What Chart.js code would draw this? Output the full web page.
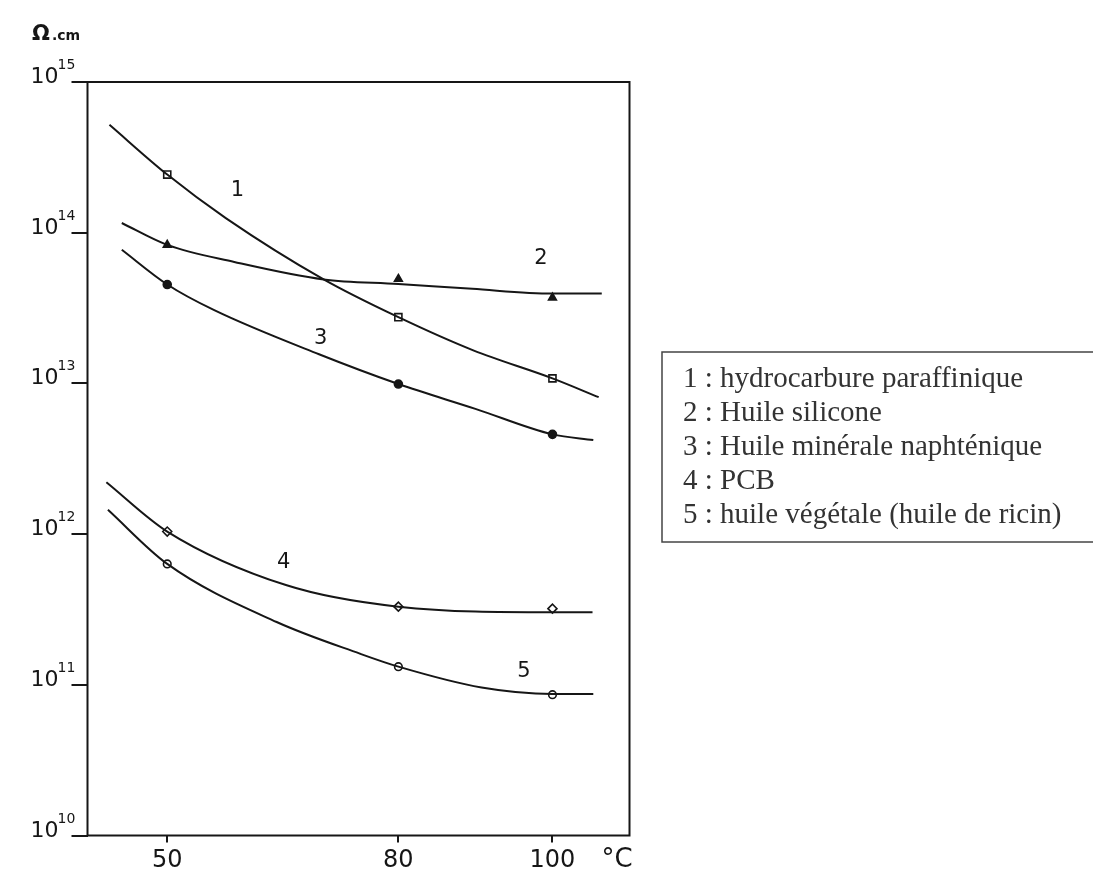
<!DOCTYPE html>
<html>
<head>
<meta charset="utf-8">
<script src="https://cdn.jsdelivr.net/npm/chart.js@4"></script>
<style>
  html, body { margin: 0; padding: 0; background: #fff; overflow: hidden; }
</style>
</head>
<body>
<canvas id="resChart" width="1093" height="877"></canvas>
<script>
// Resistivity (ohm.cm) vs temperature (°C)
const xTicks = [50, 80, 100];
const yTicks = [1e10, 1e11, 1e12, 1e13, 1e14, 1e15];

// measured temperatures (markers)
const measT = [50, 80, 100];

// 1 : hydrocarbure paraffinique
const c1X = [42.5, 50, 57.6, 70.3, 80, 89.8, 100, 106];
const c1Y = [5.2e14, 2.43e14, 1.25e14, 4.9e13, 2.75e13, 1.65e13, 1.08e13, 8.1e12];
const c1Pts = [2.43e14, 2.75e13, 1.08e13];

// 2 : Huile silicone
const c2X = [44.1, 50, 58.7, 70.3, 80, 89.6, 100, 106.4];
const c2Y = [1.16e14, 8.3e13, 6.4e13, 4.9e13, 4.57e13, 4.24e13, 3.95e13, 3.95e13];
const c2Pts = [8.3e13, 4.93e13, 3.71e13];

// 3 : Huile minerale naphtenique
const c3X = [44.1, 50, 56.1, 69.7, 80, 90, 100, 105.3];
const c3Y = [7.7e13, 4.53e13, 3.06e13, 1.56e13, 9.9e12, 6.78e12, 4.59e12, 4.21e12];
const c3Pts = [4.53e13, 9.9e12, 4.59e12];

// 4 : PCB
const c4X = [42.1, 50, 65.4, 80, 100, 105.2];
const c4Y = [2.21e12, 1.04e12, 4.59e11, 3.3e11, 3.03e11, 3.03e11];
const c4Pts = [1.04e12, 3.3e11, 3.2e11];

// 5 : huile vegetale (ricin)
const c5X = [42.3, 50, 64.2, 75, 80, 90.8, 100, 105.3];
const c5Y = [1.45e12, 6.34e11, 2.61e11, 1.61e11, 1.32e11, 9.6e10, 8.7e10, 8.7e10];
const c5Pts = [6.34e11, 1.32e11, 8.6e10];

const curveNames = [
  'hydrocarbure paraffinique',
  'Huile silicone',
  'Huile minérale naphténique',
  'PCB',
  'huile végétale (huile de ricin)'
];
// where the hand-written curve numbers sit (data coords)
const tagX = [59.1, 98.5, 69.9, 65.1, 96.3];
const tagY = [1.89e14, 6.7e13, 1.97e13, 6.5e11, 1.23e11];

const ink = '#161616';
const hand = '"DejaVu Sans", sans-serif';

function zip(xs, ys) {
  return xs.map((x, i) => ({ x: x, y: ys[i] }));
}

const curves = [[c1X, c1Y], [c2X, c2Y], [c3X, c3Y], [c4X, c4Y], [c5X, c5Y]];
const marks = [c1Pts, c2Pts, c3Pts, c4Pts, c5Pts];
const styles = [
  { pointStyle: 'rect', radius: 5, fill: '#fff' },
  { pointStyle: 'triangle', radius: 4.5, fill: ink },
  { pointStyle: 'circle', radius: 4, fill: ink },
  { pointStyle: 'rectRot', radius: 4.5, fill: '#fff' },
  { pointStyle: 'circle', radius: 3.8, fill: '#fff' }
];

let datasets = [];
curves.forEach((c, i) => {
  datasets.push({
    label: curveNames[i],
    data: zip(c[0], c[1]),
    showLine: true,
    borderColor: ink,
    borderWidth: 2,
    pointRadius: 0,
    cubicInterpolationMode: 'monotone',
    fill: false
  });
});
marks.forEach((m, i) => {
  datasets.push({
    label: curveNames[i] + ' (mesures)',
    data: zip(measT, m),
    showLine: false,
    pointStyle: styles[i].pointStyle,
    pointRadius: styles[i].radius,
    pointBackgroundColor: styles[i].fill,
    pointBorderColor: ink,
    pointBorderWidth: 1.6
  });
});

// frame, superscript tick labels, curve numbers, units and the legend box
const decorations = {
  id: 'decorations',
  afterDraw(chart) {
    const ctx = chart.ctx;
    const a = chart.chartArea;
    const xs = chart.scales.x;
    const ys = chart.scales.y;
    ctx.save();

    ctx.strokeStyle = ink;
    ctx.lineWidth = 2;
    ctx.strokeRect(a.left, a.top, a.right - a.left, a.bottom - a.top);

    // y labels 10^n
    ctx.fillStyle = ink;
    ctx.textBaseline = 'alphabetic';
    const tickStart = a.left - 16;
    yTicks.forEach(v => {
      const y = ys.getPixelForValue(v);
      const x0 = tickStart - 13;
      ctx.font = '22px ' + hand;
      ctx.textAlign = 'right';
      ctx.fillText('10', x0, y + 1);
      ctx.font = '14px ' + hand;
      ctx.textAlign = 'left';
      ctx.fillText(String(Math.round(Math.log10(v))), x0 - 1, y - 13);
    });

    // curve numbers
    ctx.font = '21px ' + hand;
    ctx.textAlign = 'center';
    ctx.textBaseline = 'middle';
    tagX.forEach((tx, i) => {
      ctx.fillText(String(i + 1), xs.getPixelForValue(tx), ys.getPixelForValue(tagY[i]));
    });

    // units
    ctx.textAlign = 'left';
    ctx.textBaseline = 'alphabetic';
    ctx.font = 'bold 21px ' + hand;
    ctx.fillText('Ω', 32, 40);
    ctx.font = 'bold 14px ' + hand;
    ctx.fillText('.cm', 52, 40);
    ctx.font = '26px ' + hand;
    ctx.textAlign = 'center';
    ctx.textBaseline = 'middle';
    ctx.fillText('°C', xs.getPixelForValue(108.4), a.bottom + 25);

    // legend box
    ctx.strokeStyle = '#444';
    ctx.lineWidth = 1.5;
    ctx.strokeRect(662, 352, 440, 190);
    ctx.fillStyle = '#333';
    ctx.font = '29px "Liberation Serif", serif';
    ctx.textAlign = 'left';
    ctx.textBaseline = 'alphabetic';
    curveNames.forEach((n, i) => {
      ctx.fillText((i + 1) + ' : ' + n, 683, 387 + i * 34);
    });
    ctx.restore();
  }
};

const ctx = document.getElementById('resChart').getContext('2d');
const chart = new Chart(ctx, {
  type: 'scatter',
  data: { datasets: datasets },
  options: {
    responsive: false,
    animation: false,
    events: [],
    layout: { padding: { left: 0, top: 82, right: 463.5, bottom: 0 } },
    plugins: {
      legend: { display: false },
      tooltip: { enabled: false }
    },
    scales: {
      x: {
        type: 'linear',
        min: 39.65,
        max: 110,
        afterBuildTicks: s => { s.ticks = xTicks.map(v => ({ value: v })); },
        afterFit: s => { s.height = 41.5; },
        border: { display: false },
        grid: { drawOnChartArea: false, tickLength: 7, color: ink, lineWidth: 2 },
        ticks: { color: ink, font: { family: hand, size: 24 }, padding: 4, maxRotation: 0 }
      },
      y: {
        type: 'logarithmic',
        min: 1e10,
        max: 1e15,
        afterBuildTicks: s => { s.ticks = yTicks.map(v => ({ value: v })); },
        afterFit: s => { s.width = 87.5; },
        border: { display: false },
        grid: { drawOnChartArea: false, tickLength: 16, color: ink, lineWidth: 2 },
        ticks: { callback: () => '' }
      }
    }
  },
  plugins: [decorations]
});
</script>
</body>
</html>
